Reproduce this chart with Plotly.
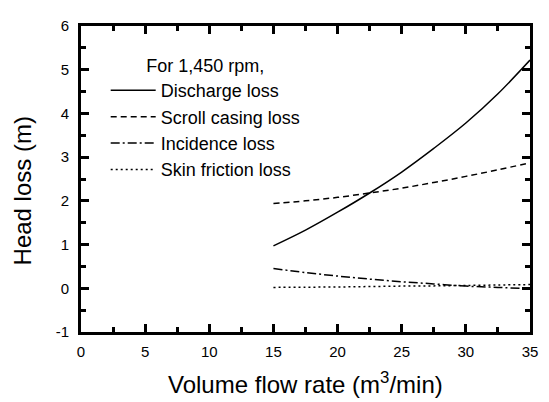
import plotly.graph_objects as go

flow_rate = [15, 17.5, 20, 22.5, 25, 27.5, 30, 32.5, 35]
discharge_loss = [0.97, 1.33, 1.74, 2.18, 2.66, 3.20, 3.78, 4.45, 5.22]
scroll_casing_loss = [1.94, 2.00, 2.08, 2.18, 2.29, 2.42, 2.56, 2.71, 2.87]
incidence_loss = [0.45, 0.36, 0.28, 0.21, 0.15, 0.10, 0.05, 0.02, -0.01]
skin_friction_loss = [0.02, 0.025, 0.03, 0.04, 0.05, 0.055, 0.065, 0.075, 0.085]

x_tick_vals = [0, 5, 10, 15, 20, 25, 30, 35]
x_tick_text = ["0", "5", "10", "15", "20", "25", "30", "35"]
y_tick_vals = [-1, 0, 1, 2, 3, 4, 5, 6]
y_tick_text = ["-1", "0", "1", "2", "3", "4", "5", "6"]

FONT = "Liberation Sans, Arial, sans-serif"

series = [
    ("Discharge loss", discharge_loss, "solid"),
    ("Scroll casing loss", scroll_casing_loss, "6px,4px"),
    ("Incidence loss", incidence_loss, "9px,3px,2px,3px"),
    ("Skin friction loss", skin_friction_loss, "2px,3px"),
]

fig = go.Figure()
for name, vals, dash in series:
    fig.add_trace(go.Scatter(
        x=flow_rate, y=vals, name=name, mode="lines",
        line=dict(color="black", width=1.5, dash=dash, shape="spline"),
    ))

axis_common = dict(
    showline=True, linecolor="black", linewidth=3, mirror="allticks",
    ticks="inside", ticklen=8, tickwidth=3, tickcolor="black",
    showgrid=False, zeroline=False,
    tickfont=dict(family=FONT, size=15, color="black"),
)

fig.update_xaxes(
    range=[0, 35], tickvals=x_tick_vals, ticktext=x_tick_text,
    minor=dict(ticks="inside", ticklen=5, tickwidth=3, tickcolor="black", dtick=2.5, tick0=0),
    ticklabelstandoff=4,
    **axis_common,
)
fig.update_yaxes(
    range=[-1, 6], tickvals=y_tick_vals, ticktext=y_tick_text,
    minor=dict(ticks="inside", ticklen=5, tickwidth=3, tickcolor="black", dtick=0.5, tick0=0),
    ticklabelstandoff=6,
    **axis_common,
)

# page body has an 8px default margin, so the figure is sized 8px smaller
fig.update_layout(
    width=541, height=394,
    margin=dict(l=73, r=19, t=9, b=70),
    plot_bgcolor="white", paper_bgcolor="white",
    font=dict(family=FONT, color="black"),
    showlegend=True,
    legend=dict(
        x=0.055, y=0.926, xanchor="left", yanchor="top",
        bgcolor="rgba(0,0,0,0)", borderwidth=0,
        font=dict(family=FONT, size=18, color="black"),
        title=dict(text="\u00a0" * 7 + "\u2009For 1,450 rpm,",
                   font=dict(family=FONT, size=18, color="black")),
        itemwidth=45, tracegroupgap=0,
    ),
)
fig.add_annotation(
    text="Volume flow rate (m<sup>3</sup>/min)",
    x=0.5, y=-0.168, xref="paper", yref="paper", yanchor="middle",
    showarrow=False, font=dict(family=FONT, size=24, color="black"),
)
fig.add_annotation(
    text="Head loss (m)", textangle=-90,
    x=-0.131, y=0.46, xref="paper", yref="paper", xanchor="center", yanchor="middle",
    showarrow=False, font=dict(family=FONT, size=24, color="black"),
)

fig.write_html("out.html")
